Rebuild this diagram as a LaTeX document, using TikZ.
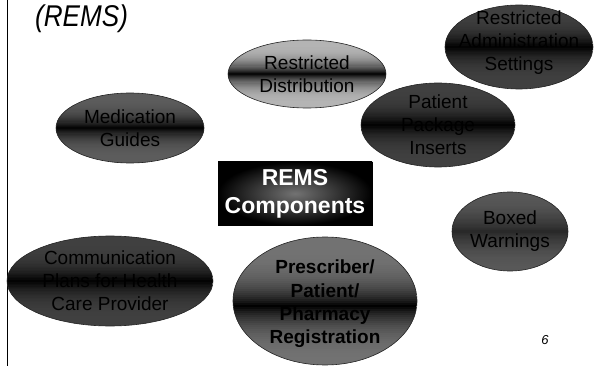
\documentclass[tikz,border=0pt]{standalone}
\usepackage{fontspec}
\setmainfont{Liberation Sans}

\definecolor{bandgrey}{HTML}{B4B4B4}
\definecolor{bandmid}{HTML}{5C5C5C}
\definecolor{banddeep}{HTML}{404040}
\definecolor{bandsoft}{HTML}{585858}
\definecolor{bandpres}{HTML}{727272}

% Ellipse filled with horizontal stripes that darken towards a black band.
% #1 centre, #2 x radius, #3 y radius, #4 colour, #5 band offset, #6 darkest, #7 power
\newcommand{\bandellipse}[7]{%
    \begin{scope}
        \clip (#1) ellipse [x radius=#2, y radius=#3];
        \foreach \k in {0,...,63}{
            \pgfmathsetmacro{\bandt}{-1+(\k+0.5)/32}
            \pgfmathtruncatemacro{\banddark}{#6*(max(0.001,1-abs(\bandt-(#5))))^#7}
            \fill[black!\banddark!#4, shift={(#1)}]
                (-#2,{-#3+#3*\k/32}) rectangle (#2,{-#3+#3*(\k+1)/32+0.6});
        }
    \end{scope}
    \draw[black!85, line width=0.6pt] (#1) ellipse [x radius=#2, y radius=#3];
}

\begin{document}
\begin{tikzpicture}[x=1pt,y=-1pt,
    partlabel/.style={inner sep=0pt, align=center, text=black,
        font=\fontsize{19}{23}\selectfont},
    hub/.style={rectangle, draw=black, line width=0.8pt, inner sep=0pt,
        inner color=black!55, outer color=black, align=center, text=white,
        font=\fontsize{23}{28}\selectfont\bfseries}]

        \useasboundingbox (0,0) rectangle (594,366);

        % Positions of all of the components.
        \coordinate (dist) at (307,74);
        \coordinate (medg) at (130,128);
        \coordinate (admin) at (519,47);
        \coordinate (ppi) at (438,125);
        \coordinate (hub) at (295,193.5);
        \coordinate (boxw) at (510,231.5);
        \coordinate (comm) at (110,281);
        \coordinate (presc) at (325,301);

        % Slide frame and title.
        \coordinate (frametop) at (7.5,0);
        \coordinate (framebot) at (7.5,366);
        \draw[line width=1.5pt] (frametop) -- (framebot);
        \node[anchor=base west, inner sep=0pt] (title) at (35,27)
            {\scalebox{0.87}[1]{\fontsize{30}{34}\selectfont\itshape (REMS)}};
        \node[inner sep=0pt, font=\fontsize{13}{15}\selectfont\itshape] (page) at (545,340) {6};

        % The shaded components round the hub.
        \bandellipse{dist}{79}{34}{bandgrey}{0}{100}{3}
        \bandellipse{medg}{74}{35}{bandmid}{0}{100}{3}
        \bandellipse{admin}{74}{42}{banddeep}{0}{100}{3}
        \bandellipse{ppi}{77}{42}{banddeep}{0}{100}{3}
        \bandellipse{boxw}{58}{39.5}{bandsoft}{0}{55}{2}
        \bandellipse{comm}{103}{45}{banddeep}{0}{100}{3}
        \bandellipse{presc}{92}{64}{bandpres}{0.08}{100}{3}

        % Their texts.
        \node[partlabel] (distt) at (dist) {Restricted\\Distribution};
        \node[partlabel] (medgt) at (medg) {Medication\\Guides};
        \node[partlabel] (admint) at ([yshift=4pt]admin) {Restricted\\Administration\\Settings};
        \node[partlabel] (ppit) at (ppi) {Patient\\Package\\Inserts};
        \node[partlabel] (boxwt) at (boxw) {Boxed\\Warnings};
        \node[partlabel] (commt) at (comm) {Communication\\Plans for Health\\Care Provider};
        \node[partlabel, font=\fontsize{19}{23.3}\selectfont\bfseries] (presct) at ([yshift=-3pt]presc)
            {Prescriber/\\Patient/\\Pharmacy\\Registration};

        % The hub itself.
        \node[hub, minimum width=154pt, minimum height=63pt] (hubn) at (hub) {REMS\\Components};
    \end{tikzpicture}
\end{document}
